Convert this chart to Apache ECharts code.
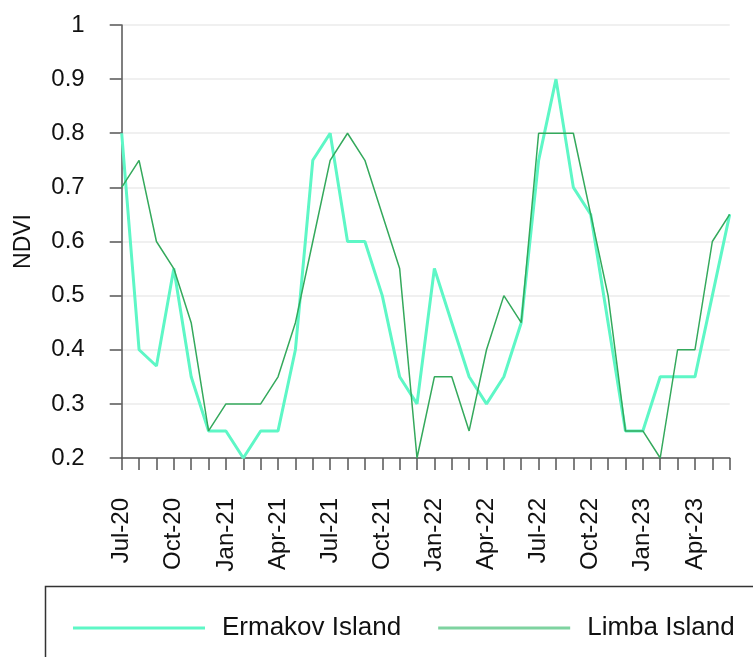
<!DOCTYPE html>
<html>
<head>
<meta charset="utf-8">
<script src="https://cdn.jsdelivr.net/npm/echarts@6/dist/echarts.min.js"></script>
<style>
html,body{margin:0;padding:0;background:#fff;}
#chart{width:753px;height:657px;}
</style>
</head>
<body>
<div id="chart"></div>
<script>
const months = ['Jul-20','Aug-20','Sep-20','Oct-20','Nov-20','Dec-20',
  'Jan-21','Feb-21','Mar-21','Apr-21','May-21','Jun-21',
  'Jul-21','Aug-21','Sep-21','Oct-21','Nov-21','Dec-21',
  'Jan-22','Feb-22','Mar-22','Apr-22','May-22','Jun-22',
  'Jul-22','Aug-22','Sep-22','Oct-22','Nov-22','Dec-22',
  'Jan-23','Feb-23','Mar-23','Apr-23','May-23','Jun-23'];
const ermakov = [0.8,0.4,0.37,0.55,0.35,0.25,
  0.25,0.2,0.25,0.25,0.4,0.75,
  0.8,0.6,0.6,0.5,0.35,0.3,
  0.55,0.45,0.35,0.3,0.35,0.45,
  0.75,0.9,0.7,0.65,0.45,0.25,
  0.25,0.35,0.35,0.35,0.5,0.65];
const limba = [0.7,0.75,0.6,0.55,0.45,0.25,
  0.3,0.3,0.3,0.35,0.45,0.6,
  0.75,0.8,0.75,0.65,0.55,0.2,
  0.35,0.35,0.25,0.4,0.5,0.45,
  0.8,0.8,0.8,0.65,0.5,0.25,
  0.25,0.2,0.4,0.4,0.6,0.65];
const seriesNames = ['Ermakov Island','Limba Island'];

const FONT = 'Liberation Sans, Arial, sans-serif';
const chart = echarts.init(document.getElementById('chart'));
chart.setOption({
  animation: false,
  textStyle: {fontFamily: FONT},
  grid: {left: 121.7, right: 23.3, top: 25, bottom: 199, containLabel: false, outerBoundsMode: 'none'},
  graphic: [{
    type: 'rect',
    shape: {x: 45.5, y: 586.5, width: 800, height: 120},
    style: {fill: 'none', stroke: '#333', lineWidth: 1.5},
    silent: true
  }],
  legend: {
    left: 68, top: 610,
    itemWidth: 132, itemHeight: 3, itemGap: 37,
    icon: 'rect',
    textStyle: {fontFamily: FONT, fontSize: 26, color: '#111', padding: [0,0,0,12]},
    data: [
      {name: seriesNames[0], itemStyle: {color: '#5ef7c6'}},
      {name: seriesNames[1], itemStyle: {color: '#7ed3a0'}}
    ]
  },
  xAxis: {
    type: 'category',
    data: months,
    boundaryGap: false,
    axisLine: {lineStyle: {color: '#555', width: 1.5}},
    axisTick: {show: true, interval: 0, length: 12, lineStyle: {color: '#555', width: 1.5}},
    axisLabel: {interval: 2, rotate: 90, margin: 40, fontSize: 24, color: '#111', fontFamily: FONT},
    splitLine: {show: false}
  },
  yAxis: {
    type: 'value',
    min: 0.2, max: 1, interval: 0.1,
    name: 'NDVI', nameLocation: 'middle', nameGap: 87, nameRotate: 90,
    nameTextStyle: {fontSize: 23, color: '#111', fontFamily: FONT},
    axisLine: {show: true, lineStyle: {color: '#555', width: 1.5}},
    axisTick: {show: true, length: 12, lineStyle: {color: '#555', width: 1.5}},
    axisLabel: {margin: 37, fontSize: 24, color: '#111', fontFamily: FONT,
      formatter: v => String(+v.toFixed(1))},
    splitLine: {show: true, lineStyle: {color: '#ebebeb', width: 1.5}}
  },
  series: [
    {name: seriesNames[0], type: 'line', data: ermakov, symbol: 'none',
      lineStyle: {color: '#5ef7c6', width: 3}, itemStyle: {color: '#5ef7c6'}, z: 2},
    {name: seriesNames[1], type: 'line', data: limba, symbol: 'none',
      lineStyle: {color: '#34a95c', width: 1.5}, itemStyle: {color: '#34a95c'}, z: 3}
  ]
});
</script>
</body>
</html>
